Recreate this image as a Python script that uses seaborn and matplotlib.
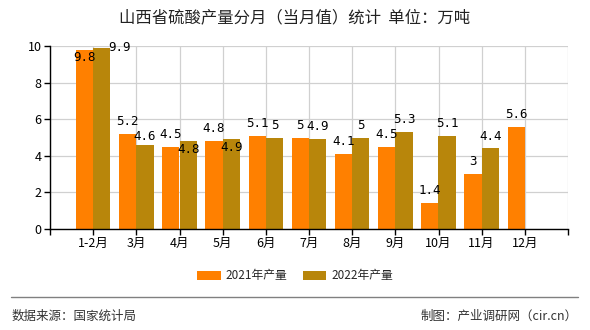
import matplotlib
matplotlib.use("Agg")
import matplotlib.pyplot as plt
import seaborn as sns
import pandas as pd
import numpy as np
from matplotlib.lines import Line2D
from matplotlib.patches import Patch

# ---- data ----
months = ["1-2月", "3月", "4月", "5月", "6月", "7月", "8月", "9月", "10月", "11月", "12月"]
series_names = ["2021年产量", "2022年产量"]
values_2021 = [9.8, 5.2, 4.5, 4.8, 5.1, 5.0, 4.1, 4.5, 1.4, 3.0, 5.6]
values_2022 = [9.9, 4.6, 4.8, 4.9, 5.0, 4.9, 5.0, 5.3, 5.1, 4.4, None]
title = "山西省硫酸产量分月（当月值）统计  单位：万吨"
source_text = "数据来源：国家统计局"
credit_text = "制图：产业调研网（cir.cn）"

# ---- style ----
colors = ["#FF8000", "#B8860B"]
sns.set_theme(style="white")
plt.rcParams["font.family"] = ["Noto Sans CJK SC", "DejaVu Sans"]
plt.rcParams["axes.unicode_minus"] = False

df = pd.DataFrame({
    "月份": months * 2,
    "系列": [series_names[0]] * len(months) + [series_names[1]] * len(months),
    "值": values_2021 + values_2022,
})
df["值"] = pd.to_numeric(df["值"])

fig = plt.figure(figsize=(5.9, 3.3), dpi=100)
ax = fig.add_axes([50 / 590, 1 - 229 / 330, 518 / 590, 183 / 330])

sns.barplot(data=df.dropna(), x="月份", y="值", hue="系列", order=months,
            hue_order=series_names, palette=colors, width=0.8, dodge=True,
            saturation=1, ax=ax, legend=False, linewidth=0)

ax.set_xlim(-1, len(months))
ax.set_ylim(0, 10)
ax.set_yticks([0, 2, 4, 6, 8, 10])
ax.set_xticks(np.arange(-1, len(months) + 1))
ax.set_xticklabels([""] + months + [""])
ax.set_xlabel("")
ax.set_ylabel("")
ax.grid(True, color="#D0D0D0", linewidth=0.9)
ax.set_axisbelow(True)
for s in ["top", "right"]:
    ax.spines[s].set_visible(False)
for s in ["left", "bottom"]:
    ax.spines[s].set_color("black")
    ax.spines[s].set_linewidth(1.0)
ax.tick_params(axis="both", which="both", length=4, width=1, color="black",
               labelsize=9, labelcolor="black", direction="out",
               bottom=True, left=True, pad=2)

# ---- value labels ----
default_off = 0.68
special = {(0, 0): (0.0, -0.45), (1, 0): (0.4, 0.0), (1, 1): (0.0, 0.48),
           (1, 2): (0.0, -0.43), (1, 3): (0.0, -0.47)}
for si, vals in enumerate([values_2021, values_2022]):
    for mi, v in enumerate(vals):
        if v is None:
            continue
        x = mi + (-0.2 if si == 0 else 0.2)
        dx, dy = special.get((si, mi), (0.0, default_off))
        ax.text(x + dx, v + dy, f"{v:g}", ha="center", va="center", fontsize=9,
                color="black", family=["DejaVu Sans Mono", "DejaVu Sans"], clip_on=False)

# ---- title ----
fig.text(0.5, 1 - 18 / 330, title, ha="center", va="center", fontsize=11.8, color="#222222")

# ---- legend ----
handles = [Patch(facecolor=c, edgecolor="none") for c in colors]
fig.legend(handles, series_names, loc="center", bbox_to_anchor=(0.5, 1 - 276 / 330),
           ncol=2, frameon=False, fontsize=8.5, handlelength=2.0, handleheight=0.7,
           columnspacing=1.3, handletextpad=0.4)

# ---- footer ----
fig.add_artist(Line2D([11 / 590, 578 / 590], [1 - 297 / 330, 1 - 297 / 330],
                      color="#808080", linewidth=1.0))
fig.text(12 / 590, 1 - 316 / 330, source_text, ha="left", va="center", fontsize=9, color="#333333")
fig.text(578 / 590, 1 - 316 / 330, credit_text, ha="right", va="center", fontsize=9, color="#333333")

fig.savefig("out.png", dpi=100)
